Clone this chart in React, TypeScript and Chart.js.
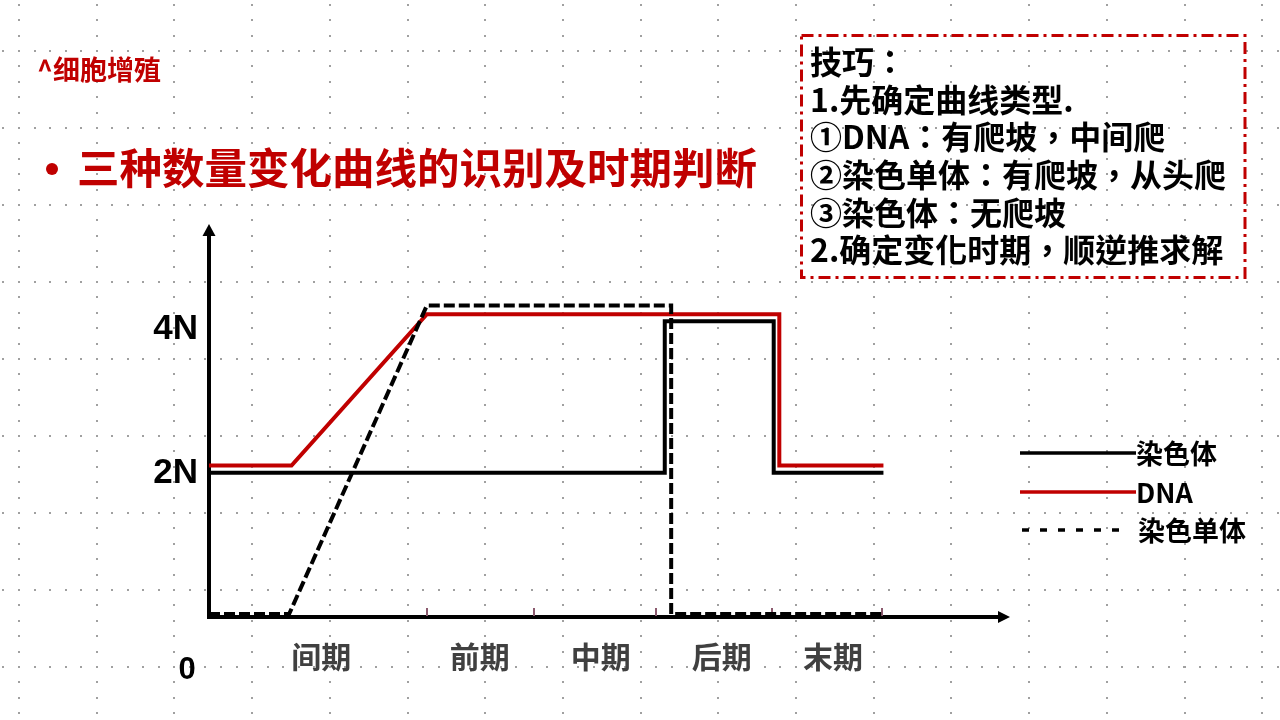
import React, { useEffect, useRef } from "react";
import { Chart, registerables } from "chart.js";

Chart.register(...registerables);

// ---- data ----
const seriesNames = ["染色体", "DNA", "染色单体"];
const chromosomeX = [0, 56.9, 56.9, 70.5, 70.5, 84.2];
const chromosomeY = [2, 2, 4.1, 4.1, 2, 2];
const dnaX = [0, 10.3, 27.2, 71.2, 71.2, 84.2];
const dnaY = [2.1, 2.1, 4.2, 4.2, 2.1, 2.1];
const chromatidX = [0, 10.0, 27.2, 57.7, 57.7, 84.2];
const chromatidY = [0.04, 0.04, 4.32, 4.32, 0.04, 0.04];

const phaseNames = ["间期", "前期", "中期", "后期", "末期"];
const phaseLabelX = [14.0, 33.8, 48.9, 64.0, 77.9];
const phaseBoundaryX = [27.2, 40.6, 55.8, 70.25, 84.0];
const yTickValues = [2, 4];
const yTickLabels = ["2N", "4N"];
const originLabel = "0";

const pageTag = "^细胞增殖";
const heading = "三种数量变化曲线的识别及时期判断";
const tipLines = [
  "技巧：",
  "1.先确定曲线类型.",
  "①DNA：有爬坡，中间爬",
  "②染色单体：有爬坡，从头爬",
  "③染色体：无爬坡",
  "2.确定变化时期，顺逆推求解",
];

const RED = "#C00000";
const CJK = '"Noto Sans CJK SC", "Noto Sans", sans-serif';
const CJK_TIPS = '"Noto Sans CJK TC", "Noto Sans CJK SC", sans-serif';
const LAT = '"Liberation Sans", Arial, sans-serif';

const bgPlugin = {
  id: "bgDots",
  beforeDraw(chart: any) {
    const ctx = chart.ctx;
    const W = chart.width;
    const H = chart.height;
    ctx.save();
    ctx.fillStyle = "#ffffff";
    ctx.fillRect(0, 0, W, H);
    ctx.fillStyle = "#a0a0a0";
    const colStep = 77.7;
    const rowStep = 77.0;
    for (let cx = 19; cx < W; cx += colStep) {
      for (let cy = 51 - rowStep; cy < H; cy += rowStep / 5) {
        ctx.fillRect(Math.round(cx) - 1, Math.round(cy) - 1, 2, 2);
      }
    }
    for (let cy = 51 - rowStep; cy < H; cy += rowStep) {
      for (let cx = 19 - colStep; cx < W; cx += colStep / 5) {
        ctx.fillRect(Math.round(cx) - 1, Math.round(cy) - 1, 2, 2);
      }
    }
    ctx.restore();
  },
};

const axesPlugin = {
  id: "axesArrows",
  beforeDatasetsDraw(chart: any) {
    const { ctx, chartArea: a, scales } = chart;
    const xs = scales.x;
    const ys = scales.y;
    const x0 = xs.getPixelForValue(0);
    const y0 = ys.getPixelForValue(0);
    ctx.save();
    ctx.strokeStyle = "#000";
    ctx.fillStyle = "#000";
    ctx.lineWidth = 4;
    ctx.beginPath();
    ctx.moveTo(x0, y0 + 2);
    ctx.lineTo(x0, a.top + 10);
    ctx.moveTo(x0 - 2, y0);
    ctx.lineTo(a.right - 9, y0);
    ctx.stroke();
    ctx.beginPath();
    ctx.moveTo(x0, a.top);
    ctx.lineTo(x0 - 6.5, a.top + 12);
    ctx.lineTo(x0 + 6.5, a.top + 12);
    ctx.closePath();
    ctx.fill();
    ctx.beginPath();
    ctx.moveTo(a.right, y0);
    ctx.lineTo(a.right - 12, y0 - 6);
    ctx.lineTo(a.right - 12, y0 + 6);
    ctx.closePath();
    ctx.fill();
    ctx.strokeStyle = "#8B5A6E";
    ctx.lineWidth = 2;
    ctx.beginPath();
    phaseBoundaryX.forEach((b) => {
      const px = Math.round(xs.getPixelForValue(b));
      ctx.moveTo(px, y0 - 9);
      ctx.lineTo(px, y0 - 1);
    });
    ctx.stroke();
    ctx.restore();
  },
};

const textPlugin = {
  id: "texts",
  afterDraw(chart: any) {
    const { ctx, scales } = chart;
    const xs = scales.x;
    const ys = scales.y;
    ctx.save();
    ctx.textBaseline = "middle";

    ctx.fillStyle = "#000";
    ctx.font = `bold 35px ${LAT}`;
    ctx.textAlign = "right";
    yTickValues.forEach((v, i) => {
      ctx.fillText(yTickLabels[i], 198, ys.getPixelForValue(v) + 1);
    });
    ctx.font = `bold 31px ${LAT}`;
    ctx.textAlign = "center";
    ctx.fillText(originLabel, 187, 670);

    ctx.fillStyle = "#404040";
    ctx.font = `bold 30px ${CJK}`;
    ctx.textAlign = "center";
    phaseNames.forEach((n, i) => {
      ctx.fillText(n, xs.getPixelForValue(phaseLabelX[i]), 657);
    });

    const legendY = [453, 492, 530];
    chart.data.datasets.forEach((ds: any, i: number) => {
      ctx.save();
      ctx.strokeStyle = ds.borderColor;
      ctx.lineWidth = 3.5;
      ctx.setLineDash(ds.borderDash ? [7, 11] : []);
      ctx.beginPath();
      ctx.moveTo(ds.borderDash ? 1022 : 1020, legendY[i]);
      ctx.lineTo(ds.borderDash ? 1128 : 1136, legendY[i]);
      ctx.stroke();
      ctx.restore();
      ctx.fillStyle = "#000";
      ctx.font = `bold 27px ${CJK}`;
      ctx.textAlign = "left";
      ctx.fillText(ds.label, ds.borderDash ? 1138 : 1136, legendY[i] + 1);
    });

    ctx.fillStyle = RED;
    ctx.textAlign = "left";
    ctx.font = `bold 27px ${CJK}`;
    ctx.fillText(pageTag, 37, 70);
    ctx.beginPath();
    ctx.arc(52, 169, 6, 0, Math.PI * 2);
    ctx.fill();
    ctx.font = `bold 42.5px ${CJK}`;
    ctx.fillText(heading, 77, 168);

    ctx.save();
    ctx.strokeStyle = RED;
    ctx.lineWidth = 3;
    ctx.setLineDash([12, 5, 3, 5]);
    ctx.strokeRect(801.5, 35.5, 443.5, 242);
    ctx.restore();
    ctx.fillStyle = "#000";
    ctx.font = `bold 32px ${CJK_TIPS}`;
    tipLines.forEach((t, i) => {
      ctx.fillText(t, 810, 62 + i * 37.6);
    });
    ctx.restore();
  },
};

export default function App() {
  const ref = useRef<HTMLCanvasElement>(null);
  useEffect(() => {
    const canvas = ref.current;
    if (!canvas) return;
    const toPts = (xArr: number[], yArr: number[]) => xArr.map((x, i) => ({ x, y: yArr[i] }));
    const chart = new Chart(canvas, {
      type: "line",
      data: {
        datasets: [
          { label: seriesNames[0], data: toPts(chromosomeX, chromosomeY), borderColor: "#000000", borderWidth: 4, order: 1 },
          { label: seriesNames[1], data: toPts(dnaX, dnaY), borderColor: RED, borderWidth: 4, order: 2 },
          { label: seriesNames[2], data: toPts(chromatidX, chromatidY), borderColor: "#000000", borderWidth: 4, borderDash: [11, 4], order: 0 },
        ] as any,
      },
      options: {
        animation: false,
        responsive: false,
        devicePixelRatio: 1,
        events: [],
        layout: { padding: { left: 209, right: 270, top: 224, bottom: 103 } },
        scales: {
          x: { type: "linear", min: 0, max: 100, display: false },
          y: { type: "linear", min: 0, max: 5.45, display: false },
        },
        elements: {
          point: { radius: 0 },
          line: { tension: 0, borderJoinStyle: "miter", borderCapStyle: "butt", fill: false },
        },
        plugins: { legend: { display: false }, tooltip: { enabled: false } },
      } as any,
      plugins: [bgPlugin, axesPlugin, textPlugin],
    });
    return () => chart.destroy();
  }, []);
  return (
    <div style={{ position: "fixed", left: 0, top: 0, width: 1280, height: 720, background: "#fff" }}>
      <canvas ref={ref} width={1280} height={720} style={{ display: "block", width: 1280, height: 720 }} />
    </div>
  );
}
